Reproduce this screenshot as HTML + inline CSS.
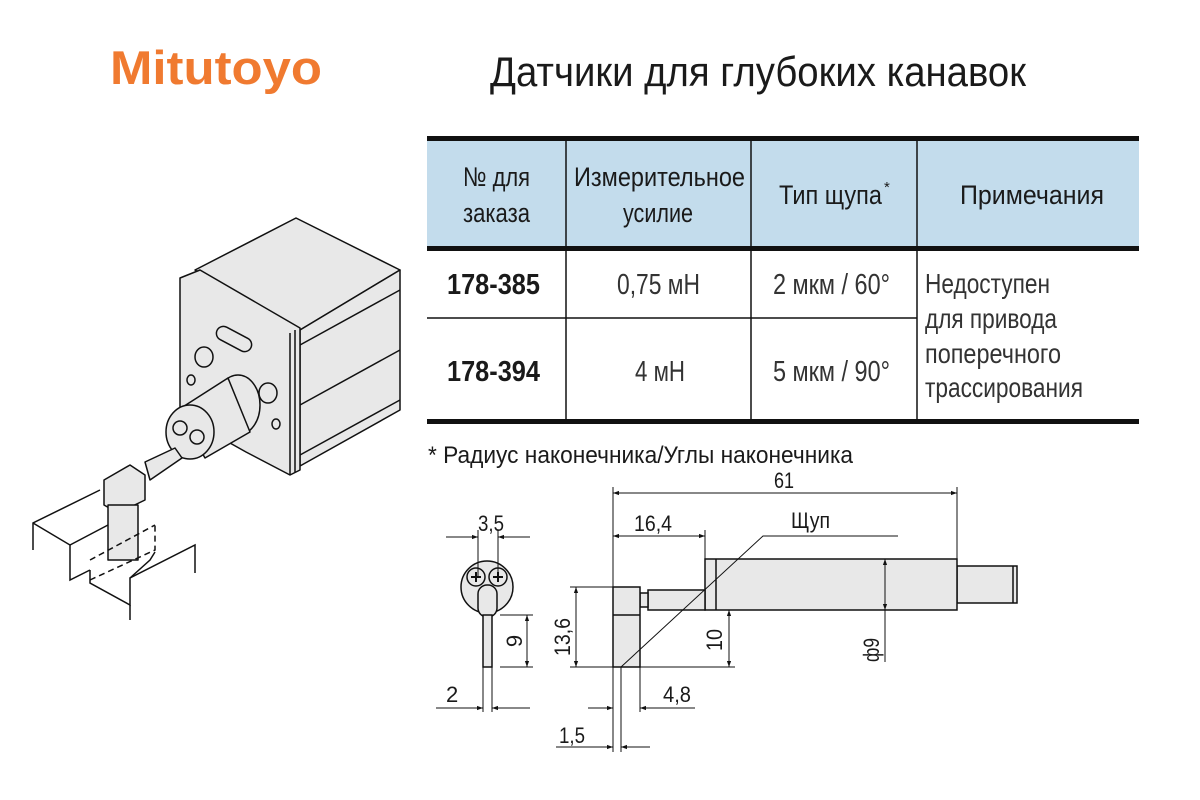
<!DOCTYPE html>
<html><head><meta charset="utf-8"><style>
html,body{margin:0;padding:0;background:#fff;}
svg{display:block;}
text{font-family:"Liberation Sans Narrow","Liberation Sans",sans-serif;fill:#1a1a1a;}
</style></head><body>
<svg width="1200" height="800" viewBox="0 0 1200 800" xmlns="http://www.w3.org/2000/svg">
<defs>
<marker id="a" viewBox="0 0 10 10" refX="10" refY="5" markerWidth="9" markerHeight="6" orient="auto-start-reverse" markerUnits="userSpaceOnUse"><path d="M0,1.5 L10,5 L0,8.5 z" fill="#111"/></marker>
</defs>
<text x="110" y="84" font-weight="bold" font-size="47" style="fill:#f07a30;font-family:'Liberation Sans',sans-serif" textLength="212" lengthAdjust="spacingAndGlyphs">Mitutoyo</text>
<text x="490" y="86" font-size="42" textLength="536" lengthAdjust="spacingAndGlyphs">Датчики для глубоких канавок</text>

<rect x="427" y="141" width="712" height="107" fill="#c3dcec"/>
<rect x="427" y="136" width="712" height="5" fill="#111"/>
<rect x="427" y="246" width="712" height="5" fill="#111"/>
<rect x="427" y="419" width="712" height="5" fill="#111"/>
<line x1="427" y1="318" x2="917" y2="318" stroke="#111" stroke-width="1.5"/>
<g stroke="#111" stroke-width="1.5">
<line x1="566" y1="141" x2="566" y2="420"/>
<line x1="751" y1="141" x2="751" y2="420"/>
<line x1="917" y1="141" x2="917" y2="420"/>
</g>
<g font-size="27">
<text x="463" y="186" textLength="67" lengthAdjust="spacingAndGlyphs">№ для</text>
<text x="463" y="222" textLength="67" lengthAdjust="spacingAndGlyphs">заказа</text>
<text x="574" y="186" textLength="171" lengthAdjust="spacingAndGlyphs">Измерительное</text>
<text x="623" y="222" textLength="70" lengthAdjust="spacingAndGlyphs">усилие</text>
<text x="779" y="204" textLength="103" lengthAdjust="spacingAndGlyphs">Тип щупа</text>
<text x="884" y="192" font-size="15">*</text>
<text x="960" y="204" textLength="144" lengthAdjust="spacingAndGlyphs">Примечания</text>
<text x="447" y="294" font-weight="bold" font-size="29" textLength="93" lengthAdjust="spacingAndGlyphs">178-385</text>
<text x="447" y="381" font-weight="bold" font-size="29" textLength="93" lengthAdjust="spacingAndGlyphs">178-394</text>
<text x="617" y="294" font-size="29" style="fill:#333" textLength="83" lengthAdjust="spacingAndGlyphs">0,75 мН</text>
<text x="635" y="381" font-size="29" style="fill:#333" textLength="50" lengthAdjust="spacingAndGlyphs">4 мН</text>
<text x="773" y="294" font-size="29" style="fill:#333" textLength="117" lengthAdjust="spacingAndGlyphs">2 мкм / 60°</text>
<text x="773" y="381" font-size="29" style="fill:#333" textLength="117" lengthAdjust="spacingAndGlyphs">5 мкм / 90°</text>
<text x="925" y="293" font-size="28" style="fill:#333" textLength="125" lengthAdjust="spacingAndGlyphs">Недоступен</text>
<text x="925" y="328" font-size="28" style="fill:#333" textLength="132" lengthAdjust="spacingAndGlyphs">для привода</text>
<text x="925" y="363" font-size="28" style="fill:#333" textLength="136" lengthAdjust="spacingAndGlyphs">поперечного</text>
<text x="925" y="397" font-size="28" style="fill:#333" textLength="158" lengthAdjust="spacingAndGlyphs">трассирования</text>
</g>
<text x="428" y="463" font-size="24" textLength="425" lengthAdjust="spacingAndGlyphs">* Радиус наконечника/Углы наконечника</text>

<g stroke="#111" stroke-width="1.5" stroke-linejoin="round" fill="#e8e8e8">
<polygon points="195,270 296,218 400,270 300,330" />
<polygon points="300,330 400,270 400,410 300,466" />
<line x1="300" y1="345" x2="400" y2="290"/>
<line x1="300" y1="405" x2="400" y2="350"/>
<line x1="300" y1="455" x2="400" y2="400"/>
<polygon points="180,278 200,270 300,328 300,470 290,475 246,452 180,415" />
<line x1="290" y1="333" x2="290" y2="475"/>
<line x1="295" y1="330" x2="295" y2="472"/>
<rect x="215" y="332" width="38" height="14" rx="7" transform="rotate(28 234 339)"/>
<ellipse cx="204" cy="357" rx="9" ry="10"/>
<ellipse cx="268" cy="393" rx="9" ry="10"/>
<ellipse cx="191" cy="380" rx="4" ry="5"/>
<ellipse cx="276" cy="424" rx="4" ry="5"/>
<ellipse cx="238" cy="405" rx="22" ry="30"/>
<polygon points="178,410 228,378 250,432 205,458"/>
<ellipse cx="190" cy="432" rx="24" ry="27"/>
<circle cx="180" cy="428" r="7"/>
<circle cx="197" cy="437" r="7"/>
<polygon points="145,462 175,448 182,458 150,480"/>
<polygon points="104,480 130,465 145,475 145,500 118,513 104,505"/>
<rect x="108" y="505" width="30" height="55"/>
</g>
<g stroke="#111" stroke-width="1.5" fill="none">
<polyline points="33,550 33,523 100,490"/>
<polyline points="33,523 70,545 70,580 90,570"/>
<polyline points="70,545 108,525"/>
<polyline points="90,570 90,583 130,605 130,578 195,545 195,573"/>
<polyline points="130,578 150,560 155,552"/>
<polyline points="130,605 130,620"/>
<polyline points="90,560 155,525" stroke-dasharray="6,4"/>
<polyline points="90,580 155,550 155,525" stroke-dasharray="6,4"/>
</g>

<g stroke="#111" stroke-width="1.5" fill="#e8e8e8">
<rect x="957" y="566" width="60" height="37"/>
<rect x="705" y="559" width="252" height="51"/>
<line x1="716" y1="559" x2="716" y2="610"/>
<rect x="648" y="590" width="57" height="20"/>
<rect x="640" y="593" width="8" height="14"/>
<rect x="613" y="587" width="27" height="80"/>
<line x1="613" y1="615" x2="640" y2="615"/>
<line x1="1013" y1="566" x2="1013" y2="603"/>
<circle cx="487" cy="587" r="26"/>
<circle cx="476" cy="577" r="9"/>
<circle cx="498" cy="577" r="9"/>
<rect x="478" y="585" width="19" height="32" rx="9"/>
<rect x="483" y="615" width="9" height="52"/>
</g>
<g stroke="#111" stroke-width="2" fill="none">
<path d="M471,577h10M476,572v10M493,577h10M498,572v10"/>
</g>
<g stroke="#111" stroke-width="1" fill="none">
<line x1="613" y1="487" x2="613" y2="752"/>
<line x1="621" y1="667" x2="621" y2="752"/>
<line x1="640" y1="667" x2="640" y2="712"/>
<line x1="957" y1="487" x2="957" y2="559"/>
<line x1="705" y1="530" x2="705" y2="559"/>
<line x1="570" y1="587" x2="613" y2="587"/>
<line x1="570" y1="667" x2="613" y2="667"/>
<line x1="640" y1="667" x2="735" y2="667"/>
<line x1="885" y1="610" x2="885" y2="662"/>
<polyline points="621,667 763,536 898,536"/>
<line x1="613" y1="493" x2="957" y2="493" marker-start="url(#a)" marker-end="url(#a)"/>
<line x1="613" y1="536" x2="705" y2="536" marker-start="url(#a)" marker-end="url(#a)"/>
<line x1="885" y1="559" x2="885" y2="610" marker-start="url(#a)" marker-end="url(#a)"/>
<line x1="729" y1="610" x2="729" y2="667" marker-start="url(#a)" marker-end="url(#a)"/>
<line x1="576" y1="587" x2="576" y2="667" marker-start="url(#a)" marker-end="url(#a)"/>
<line x1="588" y1="708" x2="613" y2="708" marker-end="url(#a)"/>
<line x1="695" y1="708" x2="640" y2="708" marker-end="url(#a)"/>
<line x1="556" y1="747" x2="613" y2="747" marker-end="url(#a)"/>
<line x1="650" y1="747" x2="621" y2="747" marker-end="url(#a)"/>
<line x1="478" y1="530" x2="478" y2="577"/>
<line x1="498" y1="530" x2="498" y2="577"/>
<line x1="446" y1="537" x2="478" y2="537" marker-end="url(#a)"/>
<line x1="530" y1="537" x2="498" y2="537" marker-end="url(#a)"/>
<line x1="500" y1="615" x2="533" y2="615"/>
<line x1="500" y1="667" x2="533" y2="667"/>
<line x1="527" y1="615" x2="527" y2="667" marker-start="url(#a)" marker-end="url(#a)"/>
<line x1="483" y1="667" x2="483" y2="712"/>
<line x1="492" y1="667" x2="492" y2="712"/>
<line x1="436" y1="708" x2="483" y2="708" marker-end="url(#a)"/>
<line x1="530" y1="708" x2="492" y2="708" marker-end="url(#a)"/>
</g>
<g font-size="22">
<text x="774" y="488" textLength="20" lengthAdjust="spacingAndGlyphs">61</text>
<text x="634" y="531" textLength="38" lengthAdjust="spacingAndGlyphs">16,4</text>
<text x="791" y="528" textLength="39" lengthAdjust="spacingAndGlyphs">Щуп</text>
<text x="663" y="702" textLength="28" lengthAdjust="spacingAndGlyphs">4,8</text>
<text x="559" y="743" textLength="26" lengthAdjust="spacingAndGlyphs">1,5</text>
<text x="478" y="531" textLength="26" lengthAdjust="spacingAndGlyphs">3,5</text>
<text x="446" y="702">2</text>
<text transform="translate(522,641) rotate(-90)" text-anchor="middle">9</text>
<text transform="translate(570,637) rotate(-90)" text-anchor="middle" textLength="38" lengthAdjust="spacingAndGlyphs">13,6</text>
<text transform="translate(722,640) rotate(-90)" text-anchor="middle" textLength="22" lengthAdjust="spacingAndGlyphs">10</text>
<text transform="translate(879,650) rotate(-90)" text-anchor="middle" textLength="24" lengthAdjust="spacingAndGlyphs">ф9</text>
</g>
</svg>
</body></html>
